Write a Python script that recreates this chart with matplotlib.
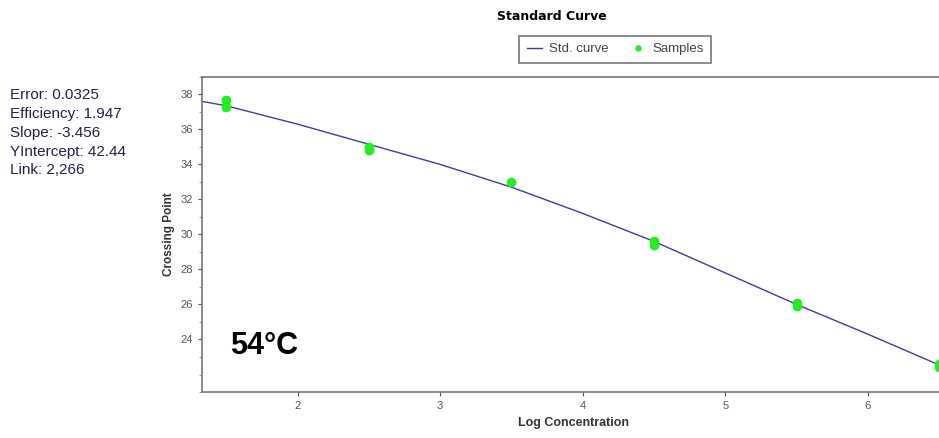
import numpy as np
import matplotlib.pyplot as plt
from matplotlib.ticker import MultipleLocator

plt.rcParams['font.family'] = ['Liberation Sans', 'DejaVu Sans']

# samples (log concentration, crossing point)
sample_x = [1.5, 1.5, 2.5, 2.5, 3.5, 4.5, 4.5, 5.5, 5.5, 6.5, 6.5]
sample_y = [37.7, 37.3, 35.0, 34.8, 33.0, 29.6, 29.4, 26.1, 25.9, 22.6, 22.4]

# fitted standard curve
curve_x = [1.33, 1.5, 2.0, 2.5, 3.0, 3.5, 4.0, 4.5, 5.0, 5.5, 6.0, 6.54]
curve_y = [37.6, 37.35, 36.3, 35.15, 34.0, 32.7, 31.2, 29.6, 27.8, 26.0, 24.3, 22.4]

stats = ["Error: 0.0325", "Efficiency: 1.947", "Slope: -3.456",
         "YIntercept: 42.44", "Link: 2,266"]

fig = plt.figure(figsize=(9.39, 4.38), dpi=100)
ax = fig.add_axes([0.2151, 0.105, 0.7913, 0.7195])

ax.plot(curve_x, curve_y, color="#3c3ca8", lw=1.0, label="Std. curve")
ax.plot(sample_x, sample_y, 'o', color="#22ee22", ms=6, label="Samples",
        zorder=3)

ax.set_xlim(1.33, 6.54)
ax.set_ylim(21, 39)
ax.set_xticks([2, 3, 4, 5, 6])
ax.set_yticks([24, 26, 28, 30, 32, 34, 36, 38])
ax.yaxis.set_minor_locator(MultipleLocator(1))
ax.tick_params(labelsize=8, colors="#555555", length=3)
ax.tick_params(which='minor', length=2, colors="#888888")
for s in ['top', 'left', 'bottom']:
    ax.spines[s].set_color("#777777")
    ax.spines[s].set_linewidth(1.2)
ax.spines['right'].set_visible(False)

ax.set_xlabel("Log Concentration", fontsize=9, fontweight='bold', color="#333333", labelpad=4)
ax.set_ylabel("Crossing Point", fontsize=8.5, fontweight='bold', color="#333333", labelpad=4)

fig.text(0.588, 0.962, "Standard Curve", fontsize=9, fontweight='bold',
         family=['DejaVu Sans'], ha='center', va='center')
leg = ax.legend(loc='center', bbox_to_anchor=(0.556, 1.088), ncol=2, fontsize=9.5,
                frameon=True, fancybox=False, edgecolor="#555555",
                handlelength=1.2, handletextpad=0.5, columnspacing=1.6,
                markerscale=0.6, borderpad=0.55)
leg.get_frame().set_linewidth(1.2)
leg._legend_box.align = "left"
for t in leg.get_texts():
    t.set_color("#444444")

for i, s in enumerate(stats):
    fig.text(0.011, 0.783 - i * 0.043, s, fontsize=11, color="#222244",
             ha='left', va='center')

ax.text(1.53, 23.6, "54°C", fontsize=22, fontweight='bold', ha='left', va='center')

plt.savefig("out.png", format="png")
